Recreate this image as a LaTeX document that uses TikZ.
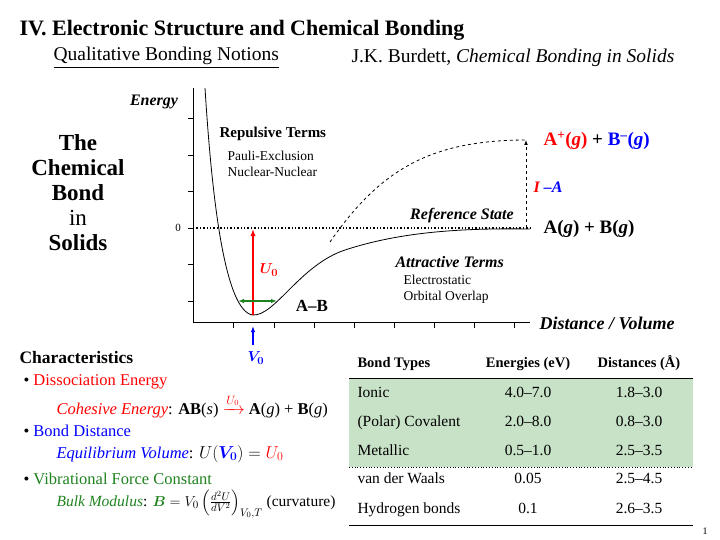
\documentclass[tikz,border=0pt]{standalone}
\usepackage{amsmath}
\usepackage{fontspec}
\setmainfont{Liberation Serif}
\usetikzlibrary{arrows.meta}
\definecolor{rowgreen}{RGB}{200,226,199}
\definecolor{darkgreen}{RGB}{30,130,30}
\begin{document}
\begin{tikzpicture}[x=1pt,y=-1pt,
    small/.style={font=\fontsize{13.5}{15}\selectfont, anchor=west},
    cell/.style={font=\fontsize{15.5}{17}\selectfont, text height=0.7em, text depth=0.25em},
    body/.style={font=\fontsize{16.5}{18}\selectfont, anchor=west}]
    \useasboundingbox (0,0) rectangle (720,540);

    % title
    \node[anchor=west, font=\fontsize{22}{25}\selectfont\bfseries] (title) at (16,30) {IV. Electronic Structure and Chemical Bonding};
    \node[anchor=west, font=\fontsize{19.5}{22}\selectfont] (sub) at (50,58) {\underline{Qualitative Bonding Notions}};
    \node[anchor=west, font=\fontsize{19.5}{22}\selectfont] (ref) at (348,58) {J.K. Burdett, \textit{Chemical Bonding in Solids}};

    % left caption
    \node[align=center, font=\fontsize{23}{25}\selectfont] (cap) at (78,193) {\textbf{The}\\\textbf{Chemical}\\\textbf{Bond}\\in\\\textbf{Solids}};

    % axes
    \draw[thick] (193,88) -- (193,322) -- (530,322);
    \foreach \ty in {118,155,191,228,264,301} \draw[thick] (188,\ty) -- (193,\ty);
    \foreach \tx in {233,274,314,354,394,434,474,514} \draw[thick] (\tx,322) -- (\tx,328);
    \node[font=\fontsize{16}{18}\selectfont\bfseries\itshape] (energy) at (154,102) {Energy};
    \node[font=\fontsize{11}{13}\selectfont] (zero) at (178,228) {0};
    \node[anchor=west, font=\fontsize{18}{20}\selectfont\bfseries\itshape] (dist) at (536,323) {Distance / Volume};
    \draw[line width=1.4pt, dotted] (193,228) -- (530,228);

    % potential curves
    \draw[thick] (205,88) .. controls (212,200) and (225,312) .. (253,315)
        .. controls (275,316) and (300,265) .. (345,250)
        .. controls (400,232) and (460,228) .. (530,229);
    \draw[thick, dashed] (330,242) .. controls (380,170) and (430,140) .. (527,140);
    \draw[thick, dashed, -{Latex[length=5pt]}] (526,228) -- (526,140);

    % arrows at minimum
    \draw[red, line width=1.5pt, -{Latex[length=7pt]}] (253,315) -- (253,229);
    \draw[darkgreen, line width=1.5pt, {Latex[length=6pt]}-{Latex[length=6pt]}] (238,301) -- (277,301);
    \draw[blue, line width=2pt, -{Latex[length=6pt]}] (253,345) -- (253,326);
    \node[red, font=\fontsize{15}{17}\selectfont] (u0) at (269,270) {$\boldsymbol{U_0}$};
    \node[blue, font=\fontsize{15}{17}\selectfont] (v0) at (256,358) {$\boldsymbol{V_0}$};
    \node[font=\fontsize{17}{19}\selectfont\bfseries] (ab) at (312,306) {A--B};

    % labels
    \node[anchor=west, font=\fontsize{15}{17}\selectfont\bfseries] (rep) at (216,134) {Repulsive Terms};
    \node[small] (pauli) at (224,156) {Pauli-Exclusion};
    \node[small] (nuc) at (224,172) {Nuclear-Nuclear};
    \node[anchor=west, font=\fontsize{16}{18}\selectfont\bfseries\itshape] (att) at (392,262) {Attractive Terms};
    \node[small] (elec) at (400,280) {Electrostatic};
    \node[small] (orb) at (400,297) {Orbital Overlap};
    \node[font=\fontsize{16}{18}\selectfont\bfseries\itshape] (refst) at (462,216) {Reference State};
    \node[anchor=west, font=\fontsize{19}{21}\selectfont\bfseries] (neut) at (540,229) {A(\textit{g}) + B(\textit{g})};
    \node[anchor=west, font=\fontsize{19}{21}\selectfont\bfseries] (ions) at (540,141) {\textcolor{red}{A\textsuperscript{+}(\textit{g})} + \textcolor{blue}{B\textsuperscript{--}(\textit{g})}};
    \node[anchor=west, font=\fontsize{16}{18}\selectfont\bfseries\itshape] (ia) at (530,187) {\textcolor{red}{I} \textcolor{blue}{--A}};

    % characteristics
    \node[anchor=west, font=\fontsize{17.5}{20}\selectfont\bfseries] (char) at (16,358) {Characteristics};
    \node[body] (c1) at (20,382) {\textbullet\ \textcolor{red}{Dissociation Energy}};
    \node[body] (c1b) at (53,406) {\textcolor{red}{\textit{Cohesive Energy}}: \textbf{AB}(\textit{s}) $\xrightarrow{\color{red}U_0}$ \textbf{A}(\textit{g}) + \textbf{B}(\textit{g})};
    \node[body] (c2) at (20,431) {\textbullet\ \textcolor{blue}{Bond Distance}};
    \node[body] (c2b) at (53,454) {\textcolor{blue}{\textit{Equilibrium Volume}}: $U(\color{blue}\boldsymbol{V_0}\color{black}) = \color{red}U_0$};
    \node[body] (c3) at (20,479) {\textbullet\ \textcolor{darkgreen}{Vibrational Force Constant}};
    \node[body, font=\fontsize{15.5}{17}\selectfont] (c3b) at (53,504) {\textcolor{darkgreen}{\textit{Bulk Modulus}}: $\color{darkgreen}\boldsymbol{B}\color{black} = V_0\left(\frac{d^2U}{dV^2}\right)_{V_0,T}$ (curvature)};

    % table
    \fill[rowgreen] (349,378) rectangle (693,467);
    \draw[thick] (349,378) -- (693,378);
    \draw[dotted, thick] (349,467) -- (693,467);
    \draw[thick] (349,525) -- (693,525);
    \node[cell, anchor=west, font=\fontsize{14.5}{16}\selectfont\bfseries] (h1) at (354,365) {Bond Types};
    \node[cell, font=\fontsize{14.5}{16}\selectfont\bfseries] (h2) at (528,365) {Energies (eV)};
    \node[cell, font=\fontsize{14.5}{16}\selectfont\bfseries] (h3) at (639,365) {Distances (Å)};
    \foreach \ty/\bt/\en/\di in {395/Ionic/4.0--7.0/1.8--3.0, 424/(Polar) Covalent/2.0--8.0/0.8--3.0, 453/Metallic/0.5--1.0/2.5--3.5, 481/van der Waals/0.05/2.5--4.5, 511/Hydrogen bonds/0.1/2.6--3.5} {
        \node[cell, anchor=west] at (354,\ty) {\bt};
        \node[cell] at (528,\ty) {\en};
        \node[cell] at (639,\ty) {\di};
    }
    \node[font=\fontsize{10}{12}\selectfont] (page) at (705,531) {1};
\end{tikzpicture}
\end{document}
